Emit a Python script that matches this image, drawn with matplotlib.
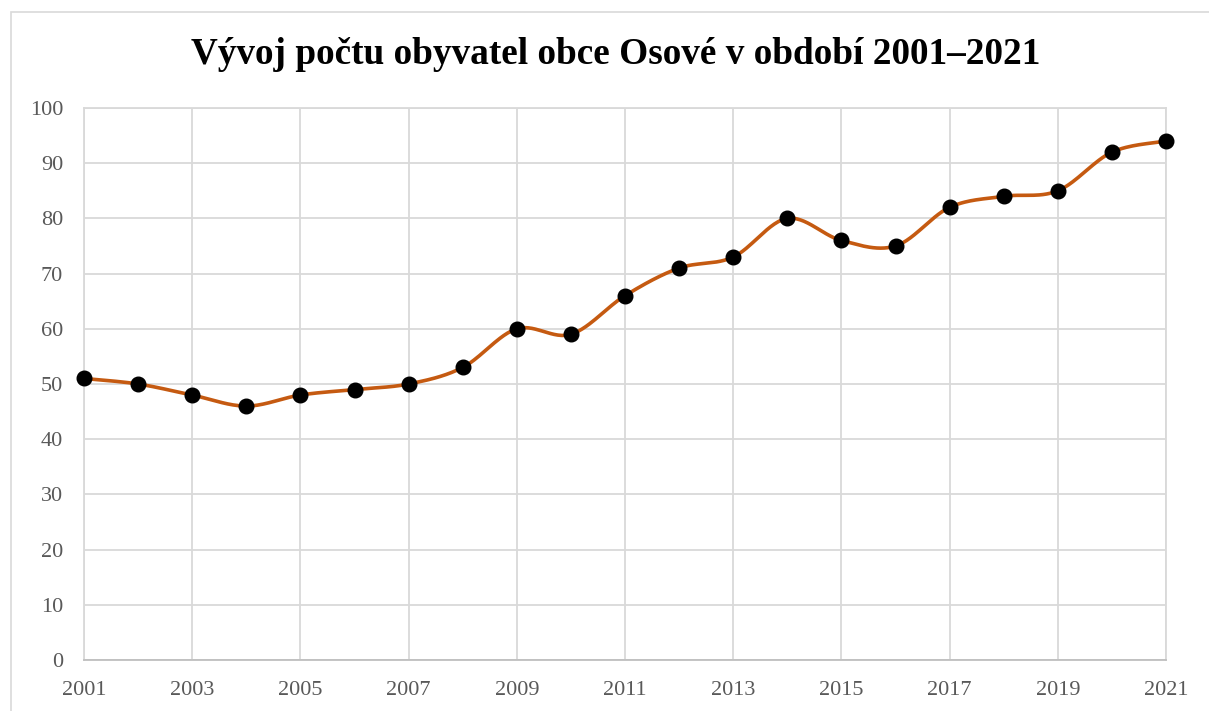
import matplotlib.pyplot as plt
import numpy as np
from matplotlib.patches import Rectangle

years = [2001, 2002, 2003, 2004, 2005, 2006, 2007, 2008, 2009, 2010, 2011,
         2012, 2013, 2014, 2015, 2016, 2017, 2018, 2019, 2020, 2021]
obyvatele = [51, 50, 48, 46, 48, 49, 50, 53, 60, 59, 66,
             71, 73, 80, 76, 75, 82, 84, 85, 92, 94]
xticks = list(range(2001, 2022, 2))
yticks = list(range(0, 101, 10))
title = 'Vývoj počtu obyvatel obce Osové v období 2001–2021'


def smooth(x, y, n=30):
    # Excel-like smoothing: cubic Bezier with Catmull-Rom control points
    x = np.asarray(x, float)
    y = np.asarray(y, float)
    px = np.concatenate([[x[0]], x, [x[-1]]])
    py = np.concatenate([[y[0]], y, [y[-1]]])
    t = np.linspace(0, 1, n)
    xs, ys = [], []
    for i in range(1, len(px) - 2):
        p0 = np.array([px[i], py[i]])
        p3 = np.array([px[i + 1], py[i + 1]])
        p1 = p0 + (p3 - np.array([px[i - 1], py[i - 1]])) / 6
        p2 = p3 - (np.array([px[i + 2], py[i + 2]]) - p0) / 6
        b = ((1 - t) ** 3)[:, None] * p0 + (3 * (1 - t) ** 2 * t)[:, None] * p1 \
            + (3 * (1 - t) * t ** 2)[:, None] * p2 + (t ** 3)[:, None] * p3
        xs.append(b[:, 0])
        ys.append(b[:, 1])
    return np.concatenate(xs), np.concatenate(ys)


plt.rcParams['font.family'] = ['Liberation Serif', 'DejaVu Serif']

fig = plt.figure(figsize=(12.09, 7.11), dpi=100)
fig.patches.append(Rectangle((11 / 1209, -0.1), 1.2, (711 - 12) / 711 + 0.1,
                             transform=fig.transFigure, fill=False,
                             edgecolor='#d9d9d9', linewidth=1.2))
ax = fig.add_axes([84 / 1209, 1 - 660 / 711, (1166 - 84) / 1209, (660 - 108) / 711])

sx, sy = smooth(years, obyvatele)
ax.plot(sx, sy, color='#C55A11', linewidth=2.6, zorder=3, solid_capstyle='round')
ax.plot(years, obyvatele, 'o', color='black', markersize=10.5, zorder=4, clip_on=False)

ax.set_xlim(2001, 2021)
ax.set_ylim(0, 100)
ax.set_xticks(xticks)
ax.set_yticks(yticks)
ax.grid(True, color='#d9d9d9', linewidth=1.3)
ax.set_axisbelow(True)
for s in ['top', 'right', 'left']:
    ax.spines[s].set_color('#d9d9d9')
    ax.spines[s].set_linewidth(1.3)
ax.spines['bottom'].set_color('#bfbfbf')
ax.spines['bottom'].set_linewidth(1.3)
ax.tick_params(length=0, labelsize=16, labelcolor='#595959')
ax.tick_params(axis='x', pad=15)
ax.tick_params(axis='y', pad=15)

fig.text(616 / 1209, 1 - 55 / 711, title, ha='center', va='center',
         fontsize=26.8, fontweight='bold', color='black')

fig.savefig('out.png', dpi=100)
